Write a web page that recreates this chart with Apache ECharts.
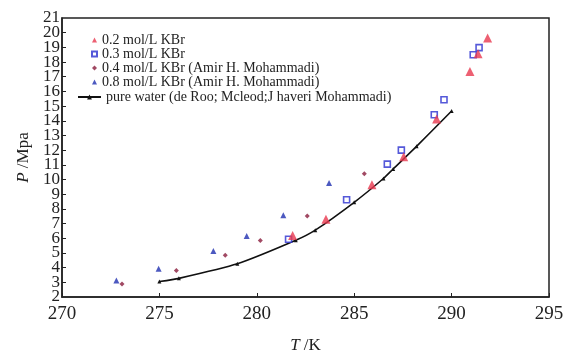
<!DOCTYPE html>
<html>
<head>
<meta charset="utf-8">
<script src="https://cdn.jsdelivr.net/npm/echarts@6/dist/echarts.min.js"></script>
<style>
  html, body { margin: 0; padding: 0; background: #fff; }
  #chart { width: 569px; height: 359px; }
</style>
</head>
<body>
<div id="chart"></div>
<script>
// values
const waterT = [275, 276, 279, 282, 283, 285, 286.5, 287, 288.2, 290];
const waterP = [3.05, 3.27, 4.26, 5.86, 6.55, 8.45, 10.07, 10.72, 12.26, 14.67];

const kbr02T = [281.84, 283.55, 285.91, 287.54, 289.23, 290.94, 291.36, 291.85];
const kbr02P = [6.19, 7.3, 9.65, 11.55, 14.12, 17.36, 18.57, 19.64];

const kbr03T = [281.63, 284.61, 286.7, 287.42, 289.11, 289.61, 291.11, 291.41];
const kbr03P = [5.93, 8.62, 11.05, 12.0, 14.41, 15.43, 18.5, 18.98];

const kbr04T = [273.08, 275.87, 278.38, 280.18, 282.59, 285.52];
const kbr04P = [2.88, 3.8, 4.85, 5.84, 7.52, 10.39];

const kbr08T = [272.79, 274.96, 277.77, 279.48, 281.36, 283.71];
const kbr08P = [3.12, 3.93, 5.14, 6.16, 7.57, 9.76];

const names = [
  "0.2 mol/L KBr",
  "0.3 mol/L KBr",
  "0.4 mol/L KBr (Amir H. Mohammadi)",
  "0.8 mol/L KBr (Amir H. Mohammadi)",
  "pure water (de Roo; Mcleod;J haveri Mohammadi)",
];

const FONT = "Liberation Serif";
const INK = "#222";

const pairs = (xs, ys) => xs.map((x, i) => [x, ys[i]]);

const yLabel = { fontFamily: FONT, fontSize: 17, color: INK, margin: 2 };

const chart = echarts.init(document.getElementById("chart"));

chart.setOption({
  animation: false,
  backgroundColor: "#fff",
  textStyle: { fontFamily: FONT, color: INK },
  grid: {
    left: 62, right: 20, top: 18, bottom: 52,
    show: true, borderColor: INK, borderWidth: 1.5,
  },
  legend: [
    {
      data: names.slice(0, 4),
      orient: "vertical",
      left: 86, top: 28,
      itemWidth: 5, itemHeight: 5,
      itemGap: 0, itemTextGap: 9,
      textStyle: { fontFamily: FONT, fontSize: 14, color: INK },
    },
    {
      data: [names[4]],
      left: 72, top: 85,
      itemWidth: 23, itemHeight: 6,
      itemTextGap: 5,
      textStyle: { fontFamily: FONT, fontSize: 14, color: INK },
    },
  ],
  xAxis: {
    type: "value",
    min: 270, max: 295, interval: 5,
    name: "{i|T} /K",
    nameLocation: "middle",
    nameGap: 40,
    nameTextStyle: {
      fontFamily: FONT, fontSize: 17, color: INK,
      rich: { i: { fontFamily: FONT, fontSize: 17, fontStyle: "italic", color: INK } },
    },
    axisLine: { lineStyle: { color: INK, width: 1.5 } },
    axisTick: { inside: true, length: 4, lineStyle: { color: INK } },
    axisLabel: { fontFamily: FONT, fontSize: 19, color: INK, margin: 8 },
    splitLine: { show: false },
  },
  yAxis: [
    {
      type: "value",
      min: 2, max: 21, interval: 1,
      name: "{i|P} /Mpa",
      nameLocation: "middle",
      nameGap: 27,
      nameRotate: 90,
      nameTextStyle: {
        fontFamily: FONT, fontSize: 17, color: INK,
        rich: { i: { fontFamily: FONT, fontSize: 17, fontStyle: "italic", color: INK } },
      },
      axisLine: { lineStyle: { color: INK, width: 1.5 } },
      axisTick: { inside: true, length: 4, lineStyle: { color: INK } },
      axisLabel: { ...yLabel, showMinLabel: false, showMaxLabel: false, hideOverlap: false },
      splitLine: { show: false },
    },
    {
      // end labels only (2 and 21), drawn over the same scale
      type: "value",
      position: "left",
      min: 2, max: 21, interval: 19,
      axisLine: { show: false },
      axisTick: { show: false },
      axisLabel: { ...yLabel, showMinLabel: true, showMaxLabel: true },
      splitLine: { show: false },
    },
  ],
  series: [
    {
      name: names[0], type: "scatter",
      data: pairs(kbr02T, kbr02P),
      symbol: "triangle", symbolSize: 9,
      itemStyle: { color: "#e8384f" },
      z: 4,
    },
    {
      name: names[1], type: "scatter",
      data: pairs(kbr03T, kbr03P),
      symbol: "rect", symbolSize: 6,
      itemStyle: { color: "#fff", borderColor: "#2a2fcf", borderWidth: 1.6 },
      z: 3,
    },
    {
      name: names[2], type: "scatter",
      data: pairs(kbr04T, kbr04P),
      symbol: "diamond", symbolSize: 5,
      itemStyle: { color: "#8a1c3c" },
      z: 3,
    },
    {
      name: names[3], type: "scatter",
      data: pairs(kbr08T, kbr08P),
      symbol: "triangle", symbolSize: 6,
      itemStyle: { color: "#1f2fb0" },
      z: 3,
    },
    {
      name: names[4], type: "line",
      data: pairs(waterT, waterP),
      smooth: 0.2,
      symbol: "triangle", symbolSize: 4,
      showAllSymbol: true,
      lineStyle: { color: "#111", width: 1.6 },
      itemStyle: { color: "#111" },
      z: 2,
    },
  ],
});
</script>
</body>
</html>
